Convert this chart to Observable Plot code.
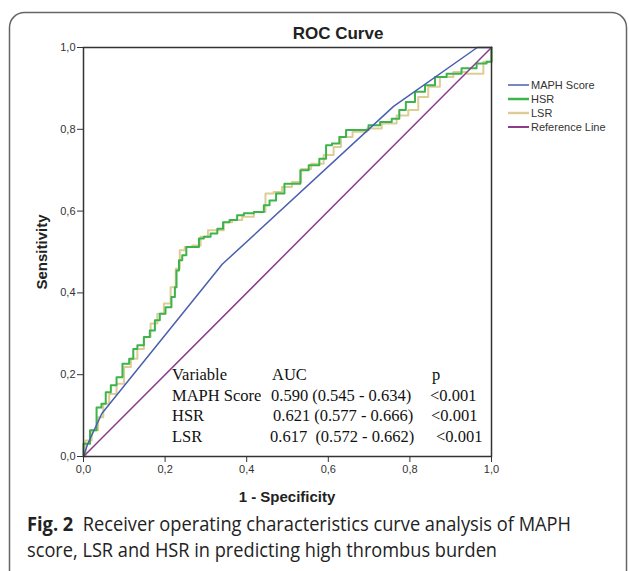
<!DOCTYPE html>
<html><head><meta charset="utf-8">
<script src="https://cdn.jsdelivr.net/npm/d3@7"></script>
<script src="https://cdn.jsdelivr.net/npm/@observablehq/plot@0.6"></script>
<style>
html,body{margin:0;padding:0;background:#fff;width:629px;height:571px;overflow:hidden}
#chart{position:absolute;left:0;top:0}
</style></head>
<body><div id="chart"></div>
<script>
// ---- data ----
const xTicks = [0, 0.2, 0.4, 0.6, 0.8, 1.0];
const yTicks = [0, 0.2, 0.4, 0.6, 0.8, 1.0];
const seriesNames = ["MAPH Score", "HSR", "LSR", "Reference Line"];
const seriesColors = ["#4a5fae", "#3cb44b", "#dccd95", "#8c3c8a"];

const mapX = [0, 0.01, 0.045, 0.34, 0.76, 0.965, 1];
const mapY = [0, 0.03, 0.105, 0.47, 0.856, 1, 1];

const hsrX = [0, 0, 0.006, 0.026, 0.038, 0.05, 0.059, 0.075, 0.087, 0.104, 0.12, 0.124, 0.14, 0.156, 0.169, 0.181, 0.193, 0.209, 0.222, 0.226, 0.23, 0.238, 0.246, 0.258, 0.279, 0.287, 0.303, 0.32, 0.336, 0.348, 0.368, 0.385, 0.401, 0.434, 0.45, 0.462, 0.482, 0.503, 0.523, 0.54, 0.564, 0.592, 0.597, 0.621, 0.633, 0.654, 0.686, 0.711, 0.743, 0.768, 0.78, 0.8, 0.825, 0.849, 0.874, 0.906, 0.947, 0.98, 0.996, 1, 1];
const hsrY = [0, 0.031, 0.031, 0.064, 0.12, 0.129, 0.157, 0.174, 0.194, 0.227, 0.239, 0.263, 0.272, 0.292, 0.308, 0.333, 0.349, 0.365, 0.39, 0.414, 0.455, 0.48, 0.492, 0.512, 0.512, 0.533, 0.537, 0.545, 0.557, 0.573, 0.578, 0.59, 0.595, 0.598, 0.614, 0.626, 0.643, 0.667, 0.667, 0.7, 0.712, 0.728, 0.761, 0.765, 0.781, 0.798, 0.798, 0.81, 0.818, 0.826, 0.847, 0.867, 0.892, 0.908, 0.928, 0.936, 0.949, 0.961, 0.965, 0.965, 1];

const lsrX = [0, 0.01, 0.03, 0.042, 0.055, 0.071, 0.091, 0.108, 0.124, 0.14, 0.156, 0.173, 0.189, 0.205, 0.222, 0.23, 0.242, 0.254, 0.279, 0.295, 0.315, 0.336, 0.352, 0.377, 0.401, 0.434, 0.458, 0.474, 0.499, 0.523, 0.544, 0.572, 0.605, 0.621, 0.641, 0.678, 0.711, 0.751, 0.784, 0.808, 0.833, 0.857, 0.89, 0.923, 0.955, 0.98, 0.98, 1, 1];
const lsrY = [0, 0.039, 0.064, 0.096, 0.129, 0.153, 0.178, 0.219, 0.239, 0.263, 0.292, 0.325, 0.349, 0.374, 0.414, 0.459, 0.504, 0.512, 0.516, 0.537, 0.553, 0.553, 0.573, 0.578, 0.586, 0.598, 0.643, 0.647, 0.659, 0.671, 0.703, 0.716, 0.737, 0.757, 0.781, 0.794, 0.802, 0.814, 0.834, 0.847, 0.879, 0.904, 0.928, 0.94, 0.936, 0.936, 0.965, 0.965, 1];

const refX = [0, 1];
const refY = [0, 1];

const tableHeader = ["Variable", "AUC", "p"];
const tableRows = [
  ["MAPH Score", "0.590 (0.545 - 0.634)", "<0.001"],
  ["HSR", "0.621 (0.577 - 0.666)", "<0.001"],
  ["LSR", "0.617  (0.572 - 0.662)", "<0.001"]
];

const titleText = "ROC Curve";
const xLabel = "1 - Specificity";
const yLabel = "Sensitivity";
const captionBold = "Fig. 2";
const captionLine1 = "Receiver operating characteristics curve analysis of MAPH";
const captionLine2 = "score, LSR and HSR in predicting high thrombus burden";

// ---- build ----
const toPts = (xs, ys) => xs.map((x, i) => ({x, y: ys[i]}));
const fmt = d => d.toFixed(1).replace(".", ",");

const W = 629, H = 571;
const mL = 83, mR = 629 - 491, mT = 47, mB = H - 456;

const plot = Plot.plot({
  width: W, height: H,
  marginLeft: mL, marginRight: mR, marginTop: mT, marginBottom: mB,
  style: {fontFamily: "'Liberation Sans', Arial, sans-serif", fontSize: "11px", color: "#333", background: "#fff"},
  x: {domain: [0, 1]},
  y: {domain: [0, 1]},
  marks: [
    Plot.line(toPts(lsrX, lsrY), {x: "x", y: "y", stroke: seriesColors[2], strokeWidth: 2, curve: "step"}),
    Plot.line(toPts(hsrX, hsrY), {x: "x", y: "y", stroke: seriesColors[1], strokeWidth: 2, curve: "step"}),
    Plot.line(toPts(mapX, mapY), {x: "x", y: "y", stroke: seriesColors[0], strokeWidth: 1.5}),
    Plot.line(toPts(refX, refY), {x: "x", y: "y", stroke: seriesColors[3], strokeWidth: 1.5}),
    Plot.frame({stroke: "#333", strokeWidth: 1.5}),
    Plot.axisX({ticks: xTicks, tickFormat: fmt, tickSize: 6, tickPadding: 3, label: null, stroke: "#333"}),
    Plot.axisY({ticks: yTicks, tickFormat: fmt, tickSize: 6, tickPadding: 2, label: null, stroke: "#333"})
  ]
});
document.getElementById("chart").appendChild(plot);

const svg = d3.select(plot);
// outer rounded box
svg.insert("rect", ":first-child")
  .attr("x", 9.5).attr("y", 12.5).attr("width", 617).attr("height", 580)
  .attr("rx", 15).attr("fill", "none").attr("stroke", "#666").attr("stroke-width", 1.5);

const sans = "'Liberation Sans', Arial, sans-serif";
svg.append("text").attr("x", 338).attr("y", 39).attr("text-anchor", "middle")
  .attr("font-family", sans).attr("font-weight", "bold").attr("font-size", 17).attr("fill", "#222").text(titleText);
svg.append("text").attr("x", 287).attr("y", 502).attr("text-anchor", "middle")
  .attr("font-family", sans).attr("font-weight", "bold").attr("font-size", 15).attr("fill", "#222").text(xLabel);
svg.append("text").attr("transform", "translate(47,252) rotate(-90)").attr("text-anchor", "middle")
  .attr("font-family", sans).attr("font-weight", "bold").attr("font-size", 15).attr("fill", "#222").text(yLabel);

// legend
const lg = svg.append("g").attr("font-family", sans).attr("font-size", 11).attr("fill", "#333").attr("text-anchor", "start");
const lw = [1.5, 2.5, 2.5, 2];
seriesNames.forEach((n, i) => {
  const yy = 85 + i * 14;
  lg.append("line").attr("x1", 508).attr("x2", 529).attr("y1", yy).attr("y2", yy)
    .attr("stroke", seriesColors[i]).attr("stroke-width", lw[i]);
  lg.append("text").attr("x", 531).attr("y", yy).attr("dy", "0.35em").text(n);
});

// AUC table
const serif = "'Liberation Serif', 'Times New Roman', serif";
const tg = svg.append("g").attr("font-family", serif).attr("font-size", 16.5).attr("fill", "#111").attr("text-anchor", "start");
const colX = [[172, 272, 432], [172, 271, 430], [172, 273, 431], [172, 270, 436]];
[tableHeader, ...tableRows].forEach((row, r) => {
  const yy = 380 + r * 20.5;
  row.forEach((t, c) => {
    tg.append("text").attr("x", colX[r][c]).attr("y", yy).attr("xml:space", "preserve")
      .style("white-space", "pre").text(t);
  });
});

// caption
const capFont = "'Open Sans', 'Noto Sans', sans-serif";
const cg = svg.append("g").attr("text-anchor", "start").attr("font-family", capFont).attr("font-size", 19.5).attr("fill", "#222");
const c1 = cg.append("text").attr("x", 27).attr("y", 531)
  .attr("textLength", 544).attr("lengthAdjust", "spacingAndGlyphs");
c1.append("tspan").attr("font-weight", "bold").text(captionBold);
c1.append("tspan").text("\u00a0\u00a0" + captionLine1);
cg.append("text").attr("x", 27).attr("y", 557)
  .attr("textLength", 470).attr("lengthAdjust", "spacingAndGlyphs")
  .text(captionLine2);
</script>
</body></html>
